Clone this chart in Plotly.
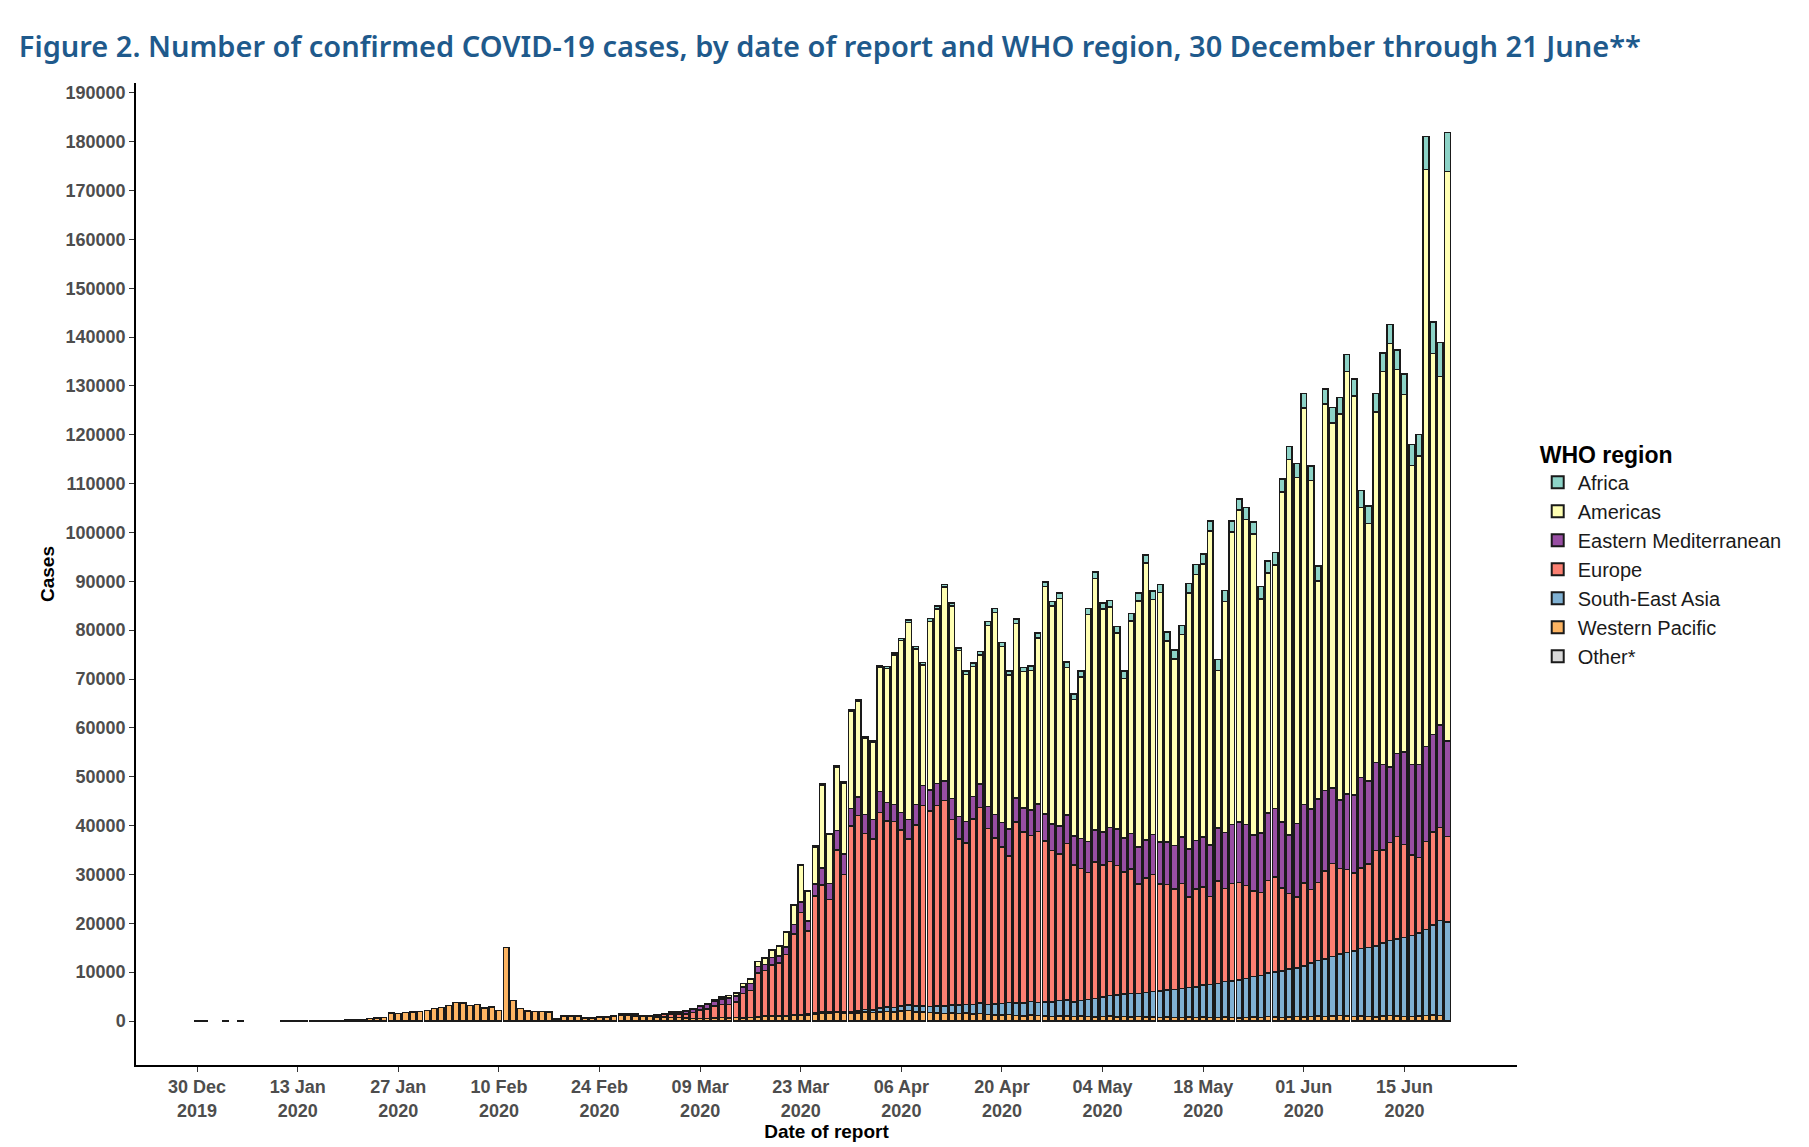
import pandas as pd
import plotly.graph_objects as go

dates = pd.date_range("2019-12-30", "2020-06-21", freq="D")

# cases in thousands, by month block: Dec30-Feb29 | Mar | Apr | May | Jun 1-21
N = None
wp_early = [0.04, 0.04,
            N, N, 0.04, N, 0.04, N, N, N, N, N, 0.04, 0.04, 0.04, 0.05, 0.05, 0.06, 0.1, 0.1, 0.15,
            0.2, 0.3, 0.35, 0.5, 0.65, 0.75, 1.6, 1.5, 1.7, 1.9, 2.0,
            2.2, 2.6, 2.8, 3.2, 3.8, 3.7, 3.2, 3.4, 2.7, 2.9, 2.2, 15.1, 4.2, 2.6, 2.1, 2.0, 2.0, 1.8,
            0.4, 1.0, 1.0, 1.0, 0.6, 0.5, 0.8, 0.7, 0.9, 1.1, 1.2]
eu_early = [N] * 54 + [0.05, 0.1, 0.1, 0.2, 0.2, 0.3, 0.3, 0.4]
em_early = [N] * 54 + [N, N, 0.02, 0.03, 0.05, 0.05, 0.05, 0.05]

wp_mar = [1.0, 1.0, 0.9, 0.8, 0.8, 0.7, 0.7, 0.6, 0.5, 0.5, 0.5, 0.6, 0.7, 0.6, 0.7, 0.6, 0.7, 0.8, 0.9, 0.9,
          1.0, 1.0, 1.1, 1.1, 1.2, 1.4, 1.5, 1.6, 1.7, 1.6, 1.5]
sea_mar = [N] * 17 + [0.1, 0.1, 0.1, 0.1, 0.2, 0.1, 0.2, 0.2, 0.3, 0.3, 0.3, 0.4, 0.4, 0.5]
eu_mar = [N, 0.1, 0.4, 0.5, 0.7, 0.7, 0.8, 1.2, 1.8, 2.0, 2.5, 2.7, 2.8, 3.2, 5.0, 5.5, 9.0, 9.3, 10.5, 10.8,
          12.5, 16.5, 21.0, 17.0, 24.0, 26.0, 23.0, 33.0, 28.0, 38.0, 40.0]
em_mar = [0.05, 0.1, 0.1, 0.2, 0.4, 0.5, 0.6, 0.8, 0.8, 0.9, 1.0, 1.1, 1.3, 1.2, 1.4, 1.5, 1.4, 1.3, 1.5, 1.4,
          1.6, 2.0, 2.2, 2.1, 2.5, 3.5, 3.3, 4.0, 4.2, 3.6, 3.8]
am_mar = [N, N, N, N, 0.05, 0.05, 0.1, 0.1, 0.1, 0.2, 0.3, 0.4, 0.5, 0.6, 0.7, 0.9, 1.0, 1.3, 1.5, 2.0,
          3.0, 4.0, 7.5, 6.0, 7.5, 17.0, 10.0, 13.0, 14.5, 20.0, 19.5]
af_mar = [N] * 17 + [0.05, 0.05, 0.1, 0.1, 0.1, 0.15, 0.15, 0.2, 0.2, 0.2, 0.25, 0.25, 0.3, 0.3]

wp_apr = [1.6, 1.8, 1.7, 1.9, 2.0, 1.8, 2.1, 2.2, 1.9, 1.8, 1.7, 1.6, 1.5, 1.6, 1.5, 1.6, 1.4, 1.5, 1.3, 1.2,
          1.2, 1.3, 1.1, 1.0, 1.2, 1.1, 1.0, 0.9, 1.0, 1.0]
sea_apr = [0.6, 0.6, 0.8, 0.9, 1.0, 1.0, 1.1, 1.2, 1.3, 1.3, 1.5, 1.6, 1.7, 1.8, 1.8, 2.0, 2.2, 2.1, 2.3, 2.4,
           2.5, 2.6, 2.7, 2.8, 2.7, 2.9, 3.0, 3.2, 3.3, 3.0]
eu_apr = [36, 35, 40, 38, 38, 36, 34, 37, 41, 40, 41, 42, 38, 34, 33, 38, 40, 36, 34, 32,
          30, 37, 35, 34, 35, 33, 31, 30, 32, 28]
em_apr = [3.9, 4.0, 4.3, 3.8, 3.5, 3.6, 3.9, 4.2, 4.1, 4.3, 4.5, 4.0, 4.3, 4.6, 4.4, 4.6, 4.8, 4.5, 4.8, 5.0,
          5.5, 5.0, 4.9, 5.2, 5.6, 5.5, 5.4, 5.7, 5.9, 6.0]
am_apr = [15.6, 15.8, 25.4, 27.5, 30.6, 35.2, 40.4, 31.9, 24.7, 34.5, 35.7, 39.7, 39.4, 33.9, 30.1, 26.6,
          26.4, 37.1, 41.3, 36.1, 31.5, 35.7, 27.9, 28.6, 34.0, 46.5, 44.6, 46.6, 30.2, 27.9]
af_apr = [0.3, 0.3, 0.3, 0.4, 0.4, 0.4, 0.5, 0.5, 0.5, 0.6, 0.6, 0.6, 0.6, 0.6, 0.7, 0.7, 0.7, 0.8, 0.8, 0.8,
          0.8, 0.9, 0.9, 0.9, 1.0, 1.0, 1.0, 1.1, 1.1, 1.1]

wp_may = [0.9, 1.0, 0.9, 0.8, 0.9, 1.0, 0.8, 0.9, 0.8, 0.9, 0.8, 0.8, 0.7, 0.8, 0.7, 0.7, 0.8, 0.7, 0.8, 0.7,
          0.7, 0.8, 0.7, 0.6, 0.7, 0.8, 0.7, 0.9, 0.8, 0.7, 0.8]
sea_may = [3.2, 3.5, 3.8, 4.0, 4.2, 4.5, 4.6, 4.8, 4.7, 5.0, 5.2, 5.4, 5.6, 5.8, 6.0, 6.1, 6.3, 6.6, 6.8, 7.0,
           7.3, 7.5, 7.8, 8.0, 8.3, 8.6, 8.9, 9.2, 9.5, 9.8, 10.0]
eu_may = [27, 26, 28, 27, 27.5, 26.5, 25, 25.5, 22.5, 23.5, 24, 22, 21.5, 20.5, 21.5, 18.5, 20, 20, 18, 21,
          19, 20, 20, 19, 17.5, 17, 19, 19.5, 17, 15.5, 14.5]
em_may = [6.2, 6.3, 6.5, 6.8, 6.9, 7.5, 7.0, 7.3, 7.5, 7.8, 8.2, 8.5, 8.7, 8.9, 9.5, 9.8, 10.0, 10.3, 10.5, 10.8,
          11.5, 12.0, 12.3, 12.5, 11.5, 12.2, 13.8, 14.0, 13.5, 12.0, 15.0]
am_may = [33.0, 46.5, 51.5, 45.6, 45.1, 40.1, 32.6, 43.5, 50.4, 56.7, 48.1, 51.1, 41.2, 38.2, 41.4, 52.4,
          54.4, 55.8, 64.3, 32.3, 47.3, 59.9, 63.9, 62.5, 61.6, 47.9, 49.1, 49.8, 67.6, 76.8, 70.9]
af_may = [1.2, 1.2, 1.3, 1.3, 1.4, 1.4, 1.5, 1.5, 1.6, 1.6, 1.7, 1.7, 1.8, 1.8, 1.9, 2.0, 2.0, 2.1, 2.1, 2.2,
          2.2, 2.3, 2.3, 2.4, 2.4, 2.5, 2.5, 2.6, 2.6, 2.7, 2.8]

wp_jun = [0.9, 0.8, 0.9, 1.0, 0.9, 1.0, 1.1, 1.0, 0.9, 1.0, 0.9, 0.8, 1.0, 1.1, 1.0, 0.9, 0.9, 1.0, 1.1, 1.2, 1.1]
sea_jun = [10.5, 11.0, 11.4, 11.8, 12.2, 12.6, 13.0, 13.4, 13.8, 14.2, 14.6, 15.0, 15.4, 15.8, 16.2, 16.6,
           17.0, 17.6, 18.5, 19.5, 20.3]
eu_jun = [17, 15, 16, 18, 19, 17.5, 17, 16, 16.5, 17, 19.5, 19, 20, 21, 19, 16.5, 15.5, 18, 19, 19, 17.5]
em_jun = [16.0, 16.5, 17.0, 16.5, 15.5, 14.0, 15.5, 16.0, 18.5, 17.0, 18.0, 17.5, 15.5, 17.0, 19.0, 18.5,
          19.0, 19.5, 20.0, 21.0, 19.5]
am_jun = [81.2, 67.2, 44.7, 79.1, 74.7, 79.1, 86.5, 81.6, 55.3, 52.7, 71.8, 80.4, 86.7, 78.6, 73.1, 61.2,
          63.2, 118.1, 77.9, 71.3, 116.6]
af_jun = [2.9, 3.0, 3.0, 3.1, 3.2, 3.3, 3.4, 3.5, 3.5, 3.6, 3.7, 3.8, 3.9, 4.0, 4.2, 4.3, 4.4, 6.8, 6.5, 7.0, 8.0]

none_early = [N] * 62
western_pacific = wp_early + wp_mar + wp_apr + wp_may + wp_jun
south_east_asia = none_early + sea_mar + sea_apr + sea_may + sea_jun
europe = eu_early + eu_mar + eu_apr + eu_may + eu_jun
eastern_med = em_early + em_mar + em_apr + em_may + em_jun
americas = none_early + am_mar + am_apr + am_may + am_jun
africa = none_early + af_mar + af_apr + af_may + af_jun
other = [N] * len(dates)

regions = ["Other*", "Western Pacific", "South-East Asia", "Europe", "Eastern Mediterranean", "Americas", "Africa"]
series = [other, western_pacific, south_east_asia, europe, eastern_med, americas, africa]
colors = ["#d9d9d9", "#fdb462", "#80b1d3", "#fb8072", "#984ea3", "#ffffb3", "#8dd3c7"]

fig = go.Figure()
for name, vals, col in zip(regions, series, colors):
    fig.add_trace(go.Bar(x=dates, y=[None if v is None else v * 1000 for v in vals], name=name,
                         marker=dict(color=col, line=dict(color="#1a1a1a", width=1.5))))

tickvals = pd.date_range("2019-12-30", "2020-06-15", freq="14D")
ticktext = ["<b>" + d.strftime("%d %b") + "<br>" + d.strftime("%Y") + "</b>" for d in tickvals]
ytickvals = list(range(0, 190001, 10000))
yticktext = ["<b>%d</b>" % v for v in ytickvals]

fig.update_layout(
    barmode="stack", bargap=0.22,
    width=1809, height=1147,
    plot_bgcolor="white", paper_bgcolor="white",
    font=dict(family="Liberation Sans, Arial", color="#4d4d4d"),
    title=dict(text="Figure 2. Number of confirmed COVID-19 cases, by date of report and WHO region, 30 December through 21 June**",
               x=0.006, xanchor="left", y=0.975,
               font=dict(family="Noto Sans", size=29, color="#1f5a8c", weight=600)),
    margin=dict(l=128, r=300, t=75, b=90),
    legend=dict(traceorder="reversed", x=1.015, y=0.52, yanchor="middle", itemsizing="constant",
                title=dict(text="<b>WHO region</b>", font=dict(size=23, color="black")),
                font=dict(size=20, color="#1a1a1a")),
    xaxis=dict(range=["2019-12-21 12:00", "2020-06-30 16:00"], tickvals=tickvals, ticktext=ticktext,
               tickfont=dict(size=18, color="#4d4d4d"),
               showline=True, linecolor="black", linewidth=1.5, ticks="outside", tickcolor="#333",
               showgrid=False, title=dict(text="<b>Date of report</b>", font=dict(size=19, color="black"), standoff=4)),
    yaxis=dict(range=[-9000, 192000], tickvals=ytickvals, ticktext=yticktext,
               tickfont=dict(size=18, color="#4d4d4d"), showline=True, linecolor="black", linewidth=1.5,
               ticks="outside", tickcolor="#333", showgrid=False, zeroline=False,
               title=dict(text="<b>Cases</b>", font=dict(size=19, color="black"), standoff=6)),
)

fig.write_html("out.html")
